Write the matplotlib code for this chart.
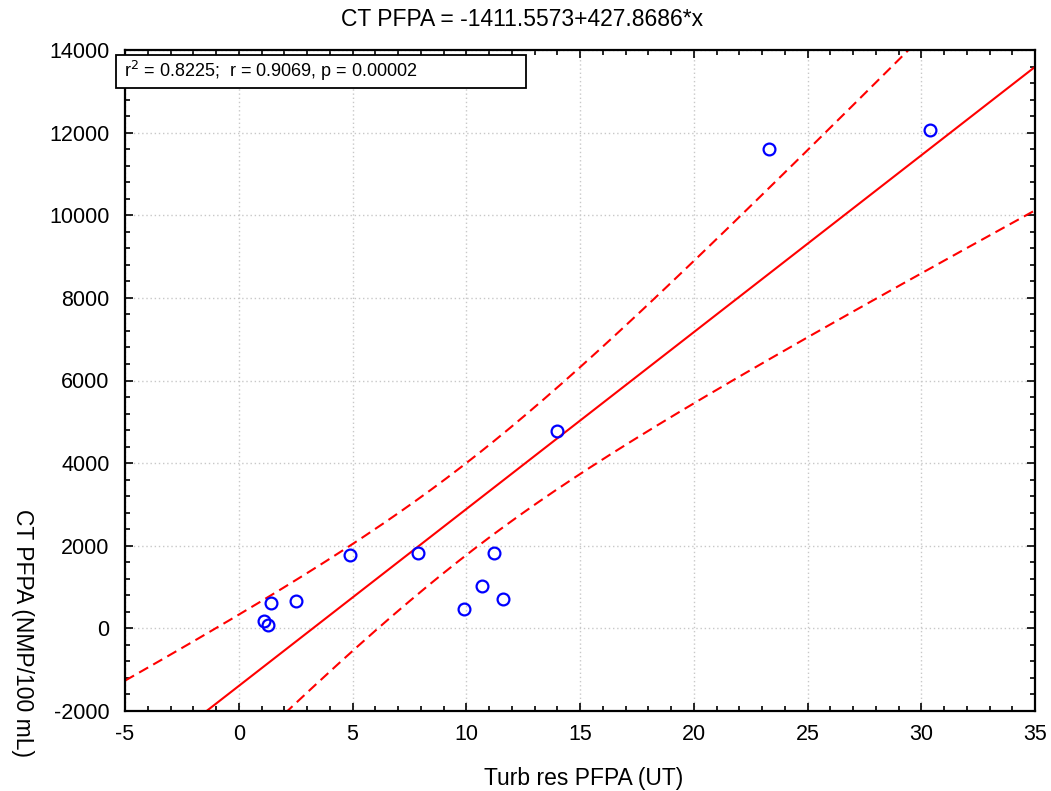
import numpy as np
import matplotlib
matplotlib.use("Agg")
import matplotlib.pyplot as plt
from matplotlib.ticker import MultipleLocator
from matplotlib.patches import Rectangle

plt.rcParams['font.family'] = ['Liberation Sans', 'DejaVu Sans']
plt.rcParams['axes.unicode_minus'] = False

turb = [1.1, 1.3, 1.4, 2.5, 4.9, 7.9, 9.9, 10.7, 11.2, 11.6, 14.0, 23.3, 30.4]
ct = [180, 80, 610, 660, 1780, 1820, 470, 1030, 1820, 710, 4780, 11610, 12070]

title = "CT PFPA = -1411.5573+427.8686*x"
stats_text = "r$^2$ = 0.8225;  r = 0.9069, p = 0.00002"
xlabel = "Turb res PFPA (UT)"
ylabel = "CT PFPA (NMP/100 mL)"

x = np.array(turb, float)
y = np.array(ct, float)
n = len(x)
slope, intercept = np.polyfit(x, y, 1)
resid = y - (intercept + slope * x)
s = np.sqrt(np.sum(resid**2) / (n - 2))
xbar = x.mean()
sxx = np.sum((x - xbar)**2)
tval = 2.200985  # t(0.975, 11)

xs = np.linspace(-5, 35, 400)
yh = intercept + slope * xs
half = tval * s * np.sqrt(1.0 / n + (xs - xbar)**2 / sxx)

W, H = 1051, 791
fig = plt.figure(figsize=(W / 100, H / 100), dpi=100)
ax = fig.add_axes([125 / W, 1 - 711 / H, 910 / W, 661 / H])

ax.plot(xs, yh, color='red', lw=1.5)
ax.plot(xs, yh + half, color='red', lw=1.5, ls=(0, (5, 2.8)))
ax.plot(xs, yh - half, color='red', lw=1.5, ls=(0, (5, 2.8)))
ax.plot(x, y, 'o', mfc='none', mec='blue', mew=1.6, ms=8.5, zorder=5)

ax.set_xlim(-5, 35)
ax.set_ylim(-2000, 14000)
ax.xaxis.set_major_locator(MultipleLocator(5))
ax.xaxis.set_minor_locator(MultipleLocator(1))
ax.yaxis.set_major_locator(MultipleLocator(2000))
ax.yaxis.set_minor_locator(MultipleLocator(400))
ax.tick_params(which='both', direction='in', top=True, right=True, width=1.2,
               labelsize=15.5)
ax.tick_params(which='major', length=5.5)
ax.tick_params(which='minor', length=3.5)
ax.tick_params(axis='y', pad=11)
ax.tick_params(axis='x', pad=9)
ax.grid(True, which='major', color='#c8c8c8', ls=(0, (1, 2)), lw=1)
for sp in ax.spines.values():
    sp.set_linewidth(1.6)

fig.text(522 / W, 1 - 20 / H, title, fontsize=16.5, ha='center', va='center')
fig.text(584 / W, 1 - 778 / H, xlabel, fontsize=16.5, ha='center', va='center')
fig.text(22 / W, 1 - 633 / H, ylabel, fontsize=16.5, ha='center', va='center',
         rotation=270)

fig.patches.append(Rectangle((116 / W, 1 - 88 / H), 410 / W, 33 / H,
                             transform=fig.transFigure, fc='white', ec='black',
                             lw=1.3, zorder=10))
fig.text(124 / W, 1 - 71 / H, stats_text, fontsize=13, va='center', ha='left',
         zorder=11)

fig.savefig("out.png", dpi=100)
